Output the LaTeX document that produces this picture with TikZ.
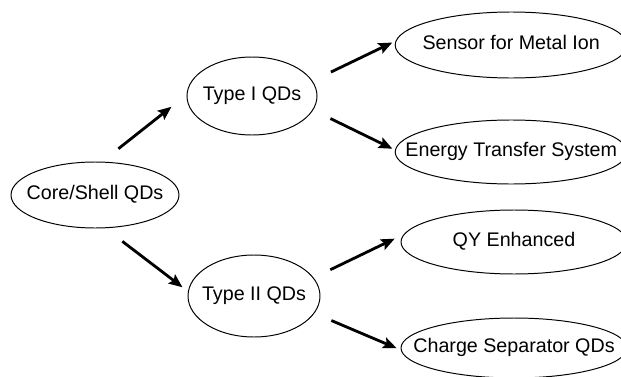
\documentclass[tikz,border=0pt]{standalone}
\usepackage{fontspec}
\setmainfont{Liberation Sans}
\usepackage{tikz}
\usetikzlibrary{shapes.geometric,arrows.meta}

\begin{document}
\begin{tikzpicture}[
  qdnode/.style={ellipse, draw=black, line width=0.7pt, inner sep=0pt, font=\fontsize{14}{16}\selectfont, text height=1.45ex, text depth=0.35ex},
  flow/.style={-{Stealth[length=3.4mm, width=2.8mm, inset=0.6mm]}, line width=2pt, black}
]
\useasboundingbox (0,0) rectangle (15.525,9.4);

% Root
\node[qdnode, minimum width=4.2cm, minimum height=1.65cm] (core) at (2.375,4.525) {\makebox[0pt]{Core/Shell QDs}};

% Types
\node[qdnode, minimum width=3.25cm, minimum height=1.95cm] (type1) at (6.3,7.0) {\makebox[0pt]{Type I QDs}};
\node[qdnode, minimum width=3.3cm, minimum height=2.05cm] (type2) at (6.35,2.0) {\makebox[0pt]{Type II QDs}};

% Applications
\node[qdnode, minimum width=5.8cm, minimum height=1.65cm] (sensor) at (12.78,8.275) {\makebox[0pt]{Sensor for Metal Ion}};
\node[qdnode, minimum width=5.8cm, minimum height=1.6cm] (energy) at (12.78,5.6) {\makebox[0pt]{Energy Transfer System}};
\node[qdnode, minimum width=5.65cm, minimum height=1.6cm] (qy) at (12.85,3.35) {\makebox[0pt]{QY Enhanced}};
\node[qdnode, minimum width=5.65cm, minimum height=1.5cm] (charge) at (12.85,0.7) {\makebox[0pt]{Charge Separator QDs}};

% Arrows
\draw[flow, shorten <=0.52cm, shorten >=0.48cm] (core.78) -- (type1.179);
\draw[flow, shorten <=0.54cm, shorten >=0.17cm] (core.287) -- (type2.176);
\draw[flow, shorten <=0.51cm, shorten >=0.09cm] (type1.14) -- (sensor.178);
\draw[flow, shorten <=0.48cm, shorten >=0.07cm] (type1.347) -- (energy.179);
\draw[flow, shorten <=0.46cm, shorten >=0.25cm] (type2.17) -- (qy.176);
\draw[flow, shorten <=0.46cm, shorten >=0.11cm] (type2.344) -- (charge.181);

\end{tikzpicture}
\end{document}
